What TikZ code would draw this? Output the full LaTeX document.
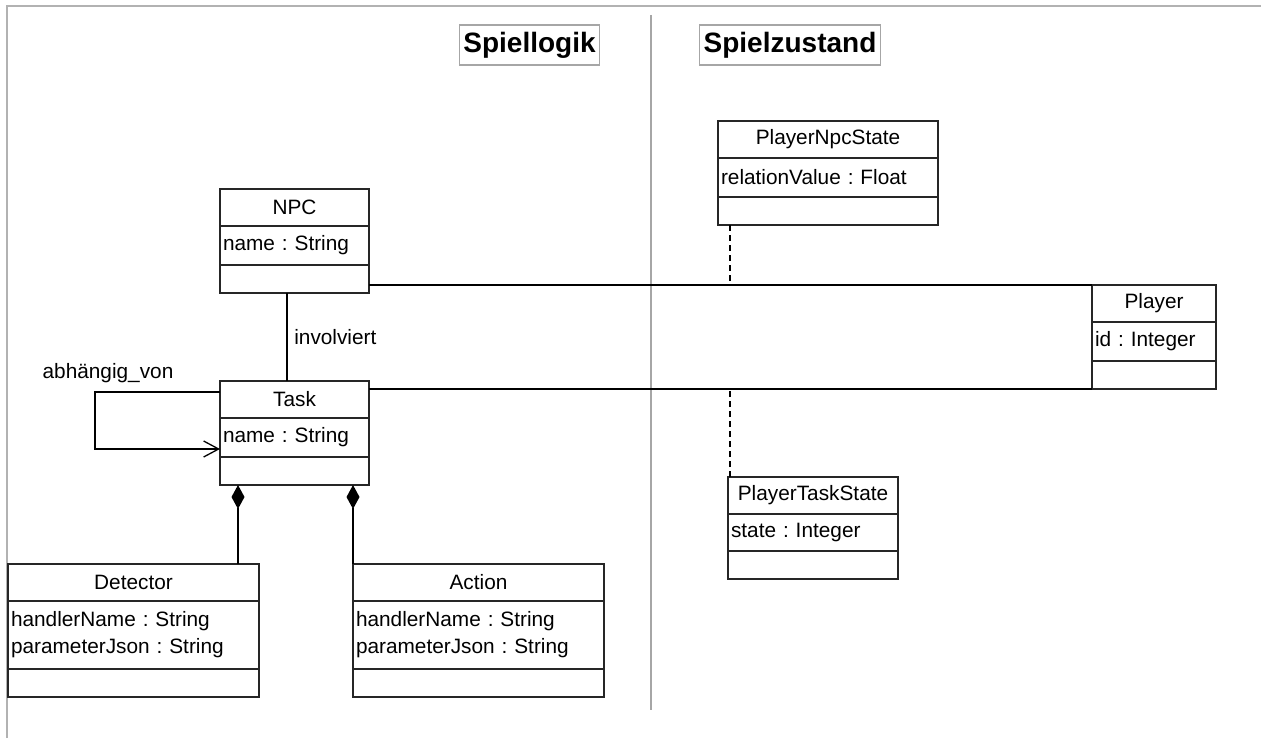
\documentclass[tikz,border=0pt]{standalone}
\usepackage{fontspec}
\setmainfont{Liberation Sans}
\usetikzlibrary{positioning,arrows.meta}
\frenchspacing

\tikzstyle{classhead} = [draw, rectangle, anchor=north west, outer sep=0pt,
    inner xsep=1.5pt, minimum height=18.5pt, align=center]
\tikzstyle{classattr} = [draw, rectangle, outer sep=0pt,
    inner xsep=1.5pt, align=left]
\tikzstyle{classops} = [draw, rectangle, outer sep=0pt, minimum height=14pt]
\tikzstyle{titlebox} = [draw=black!35, rectangle, inner xsep=2pt,
    minimum height=20pt, font=\fontsize{14}{16}\selectfont\bfseries]

% name, x, y, width (px), title, attributes, attribute height (px)
\newcommand{\umlclass}[7]{%
  \pgfmathsetmacro{\cw}{#4*0.5}
  \pgfmathsetmacro{\tw}{#4*0.5-3}
  \pgfmathsetmacro{\ah}{#7*0.5}
  \node[classhead, minimum width=\cw pt, text width=\tw pt] (#1) at (#2,#3) {#5};
  \node[classattr, minimum width=\cw pt, text width=\tw pt, minimum height=\ah pt,
    below=0pt of #1] (#1-a) {#6};
  \node[classops, minimum width=\cw pt, below=0pt of #1-a] (#1-o) {};
}

\begin{document}
\begin{tikzpicture}[x=0.5pt,y=-0.5pt,line width=0.65pt,
    font=\fontsize{10.4}{13.5}\selectfont\frenchspacing]

\useasboundingbox (0,0) rectangle (1261,738);

% page frame and divider
\draw[black!30] (7,738) -- (7,6) -- (1261,6);
\draw[black!35] (651,15) -- (651,710);

\node[titlebox] (logik) at (529.5,45) {Spiellogik};
\node[titlebox] (zustand) at (790,45) {Spielzustand};

\begin{scope}[draw=black!85]
\umlclass{npc}{220}{189}{149}{NPC}{name : String}{39}
\umlclass{task}{220}{381}{149}{Task}{name : String}{39}
\umlclass{detector}{8}{564}{251}{Detector}{handlerName : String\\parameterJson : String}{68}
\umlclass{action}{353}{564}{251}{Action}{handlerName : String\\parameterJson : String}{68}
\umlclass{pns}{718}{121}{220}{PlayerNpcState}{relationValue : Float}{39}
\umlclass{player}{1092}{285}{124}{Player}{id : Integer}{39}
\umlclass{pts}{728}{477}{170}{PlayerTaskState}{state : Integer}{37}
\end{scope}

% associations
\draw (player.north west) -- (player.north west -| npc.east);
\draw (player-o.south west) -- (player-o.south west -| task.east);
\draw ([xshift=33.5pt]npc-o.south west) -- ([xshift=33.5pt]task.north west)
    node[midway, right=0pt] (inv) {involviert};

\draw[dash pattern=on 3pt off 2pt] ([xshift=6pt]pns-o.south west)
    -- ([xshift=6pt]pns-o.south west |- player.north);
\draw[dash pattern=on 3pt off 2pt] ([xshift=1pt]pts.north west)
    -- ([xshift=1pt]pts.north west |- player-o.south);

% self dependency
\draw[-{Straight Barb[length=7.5pt,width=8pt]}] ([yshift=-5.5pt]task.north west)
    -- ++(-125,0) |- ([yshift=4pt]task-a.south west);
\node (dep) at (108,373) {abhängig\_von};

% compositions
\draw[{Diamond[length=12pt,width=6.5pt]}-] ([xshift=9pt]task-o.south west)
    -- ([xshift=9pt]task-o.south west |- detector.north);
\draw[{Diamond[length=12pt,width=6.5pt]}-] ([xshift=66.5pt]task-o.south west)
    -- (action.north west);

\end{tikzpicture}
\end{document}
